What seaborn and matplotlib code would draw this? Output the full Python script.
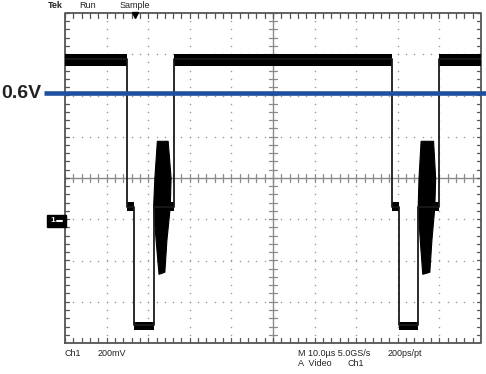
import numpy as np
import pandas as pd
import matplotlib
matplotlib.use("Agg")
import matplotlib.pyplot as plt
import seaborn as sns

# ---------------- data ----------------
# time in microseconds (10 us/div), voltage in volts (200 mV/div, ground at 0)
trace_time = [0, 14.9, 14.9, 16.7, 16.7, 21.5, 21.5, 26.3, 26.3,
              78.7, 78.7, 80.4, 80.4, 84.9, 84.9, 90.0, 90.0, 100]
trace_volt = [0.775, 0.775, 0.06, 0.06, -0.515, -0.515, 0.06, 0.06, 0.775,
              0.775, 0.06, 0.06, -0.515, -0.515, 0.06, 0.06, 0.775, 0.775]

# noise bands on the flat levels: start, end, low, high
band_start = [0.0, 26.3, 90.0, 14.9, 78.7, 16.7, 80.4, 24.5, 88.2]
band_end   = [14.9, 78.7, 100.0, 16.7, 80.4, 21.5, 84.9, 26.3, 90.0]
band_low   = [0.745, 0.745, 0.745, 0.038, 0.038, -0.535, -0.535, 0.038, 0.038]
band_high  = [0.802, 0.802, 0.802, 0.082, 0.082, -0.498, -0.498, 0.082, 0.082]

# colour-burst envelopes (polygon outline)
burst1_time = [22.2, 24.8, 25.5, 25.3, 24.5, 24.0, 22.6, 21.9, 21.3, 21.6]
burst1_volt = [0.378, 0.378, 0.199, 0.058, -0.102, -0.257, -0.267, -0.102, 0.058, 0.199]
burst2_time = [85.6, 88.6, 89.1, 88.9, 88.2, 87.7, 86.0, 85.4, 84.9, 85.1]
burst2_volt = [0.378, 0.378, 0.199, 0.058, -0.102, -0.257, -0.267, -0.102, 0.058, 0.199]

threshold_volt = 0.61
threshold_label = "0.6V"

status_top = ["Tek", "Run", "Sample"]
status_bottom = ["Ch1", "200mV", "M 10.0\u00b5s 5.0GS/s", "200ps/pt", "A  Video", "Ch1"]

# ---------------- figure ----------------
sns.set_style("white")
plt.rcParams["font.family"] = ["Liberation Sans", "DejaVu Sans"]

W, H = 486, 374
fig = plt.figure(figsize=(W / 100, H / 100), dpi=100)
fig.patch.set_facecolor("white")
L, R, T, B = 65, 481, 13, 343
ax = fig.add_axes([L / W, (H - B) / H, (R - L) / W, (B - T) / H])

pxx = 100 / (R - L)        # data per pixel (x)
pxy = 1.6 / (B - T)        # data per pixel (y)

grid_col = "#9a9a9a"
# dotted graticule
dots_x, dots_y = [], []
for gx in np.arange(10, 100, 10):
    if gx == 50:
        continue
    for gy in np.arange(-0.6, 1.0001, 0.04):
        dots_x.append(gx); dots_y.append(gy)
for gy in np.arange(-0.4, 0.8001, 0.2):
    if abs(gy - 0.2) < 1e-6:
        continue
    for gx in np.arange(0, 100.001, 2):
        dots_x.append(gx); dots_y.append(gy)
ax.scatter(dots_x, dots_y, s=1.2, color=grid_col, linewidths=0, zorder=1)

# center cross with ticks
ax.axvline(50, color="#8a8a8a", lw=1.0, zorder=1)
ax.axhline(0.2, color="#8a8a8a", lw=1.0, zorder=1)
for gx in np.arange(0, 100.001, 2):
    ax.plot([gx, gx], [0.2 - 4 * pxy, 0.2 + 4 * pxy], color="#8a8a8a", lw=0.9, zorder=1)
    ax.plot([gx, gx], [1.0, 1.0 - 5 * pxy], color="#555555", lw=0.9, zorder=1)
    ax.plot([gx, gx], [-0.6, -0.6 + 5 * pxy], color="#555555", lw=0.9, zorder=1)
for gy in np.arange(-0.6, 1.0001, 0.04):
    ax.plot([50 - 4 * pxx, 50 + 4 * pxx], [gy, gy], color="#8a8a8a", lw=0.9, zorder=1)
    ax.plot([0, 4 * pxx], [gy, gy], color="#555555", lw=0.9, zorder=1)
    ax.plot([100, 100 - 4 * pxx], [gy, gy], color="#555555", lw=0.9, zorder=1)
# border
ax.plot([0, 100, 100, 0, 0], [-0.6, -0.6, 1.0, 1.0, -0.6], color="#555555", lw=1.3,
        zorder=2, clip_on=False)

# noise bands
for t0, t1, lo, hi in zip(band_start, band_end, band_low, band_high):
    ax.fill_between([t0, t1], [lo, lo], [hi, hi], color="black", linewidth=0, zorder=3)

# bursts
ax.fill(burst1_time, burst1_volt, color="black", zorder=3, linewidth=0.8)
ax.fill(burst2_time, burst2_volt, color="black", zorder=3, linewidth=0.8)

# main trace
df = pd.DataFrame({"t": trace_time, "v": trace_volt})
sns.lineplot(data=df, x="t", y="v", sort=False, estimator=None, color="#1a1a1a",
             lw=1.3, ax=ax, zorder=4)
ax.set_xlim(0, 100)
ax.set_ylim(-0.6, 1.0)
ax.set_axis_off()

# threshold line
ax.plot([-21 * pxx, 100 + 6 * pxx], [threshold_volt, threshold_volt], color="#1f4f9e",
        lw=3.3, zorder=5, clip_on=False, solid_capstyle="butt")
fig.text(1 / W, 1 - 93 / H, threshold_label, fontsize=14, fontweight="bold",
         color="#222222", ha="left", va="center")

# ground marker
fig.patches.append(plt.Rectangle((47 / W, 1 - 227 / H), 19 / W, 12 / H, transform=fig.transFigure,
                                 color="black", zorder=6))
fig.text(53 / W, 1 - 221 / H, "1", fontsize=6, color="white", ha="center", va="center",
         fontweight="bold", zorder=7)
fig.lines.append(plt.Line2D([57 / W, 62 / W], [1 - 221 / H, 1 - 221 / H], transform=fig.transFigure,
                            color="white", lw=1.5, zorder=7))

# trigger position marker
ax.plot([(135 - L) * pxx], [1.0 - 2 * pxy], marker="v",
        color="black", markersize=4, clip_on=False, zorder=6)

# status texts
fs = 6.5
tc = "#222222"
fig.text(48 / W, 1 - 6 / H, status_top[0], fontsize=fs, color=tc, va="center", fontweight="bold")
fig.text(79 / W, 1 - 6 / H, status_top[1], fontsize=fs, color=tc, va="center")
fig.text(120 / W, 1 - 6 / H, status_top[2], fontsize=fs, color=tc, va="center")

fig.text(64 / W, 1 - 354 / H, status_bottom[0], fontsize=fs, color=tc, va="center")
fig.text(98 / W, 1 - 354 / H, status_bottom[1], fontsize=fs, color=tc, va="center")
fig.text(298 / W, 1 - 354 / H, status_bottom[2], fontsize=fs, color=tc, va="center")
fig.text(388 / W, 1 - 354 / H, status_bottom[3], fontsize=fs, color=tc, va="center")
fig.text(298 / W, 1 - 363 / H, status_bottom[4], fontsize=fs, color=tc, va="center")
fig.text(347 / W, 1 - 363 / H, status_bottom[5], fontsize=fs, color=tc, va="center")

fig.savefig("out.png", dpi=100, facecolor="white")
